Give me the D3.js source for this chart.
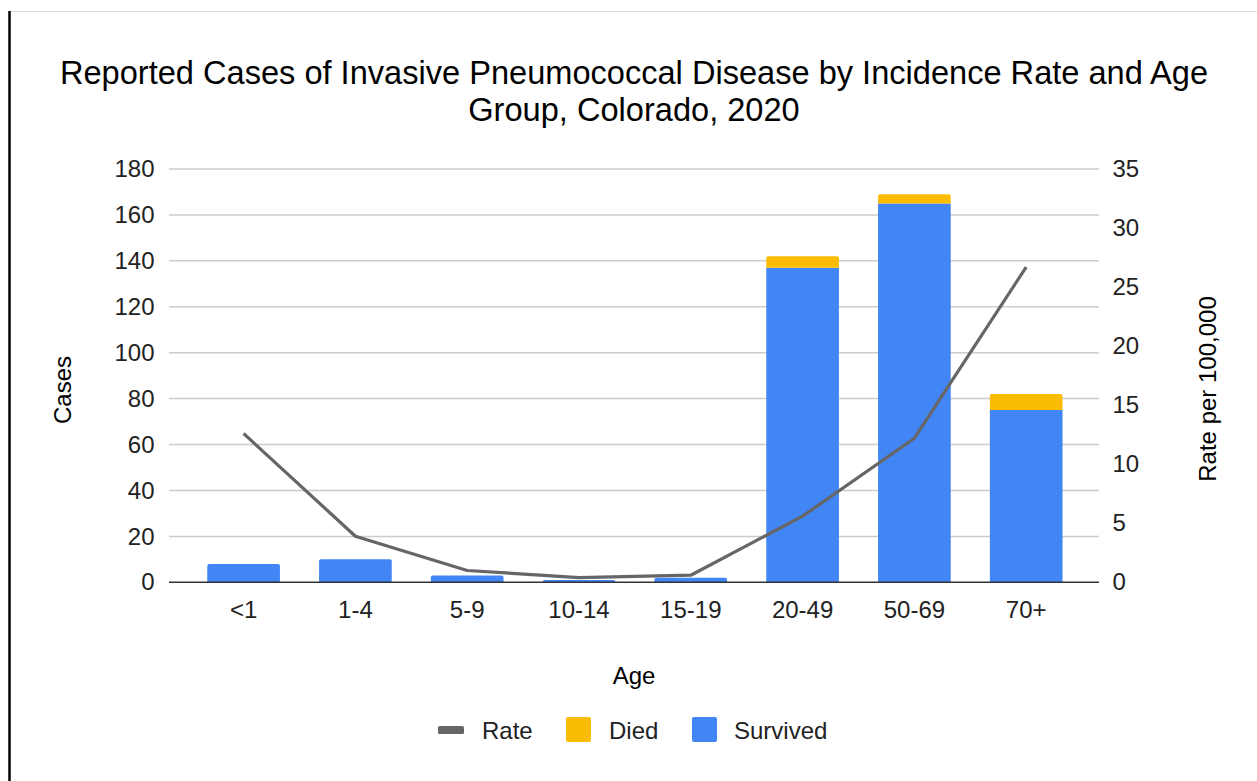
<!DOCTYPE html>
<html>
<head>
<meta charset="utf-8">
<script src="https://cdn.jsdelivr.net/npm/d3@7"></script>
<style>
  html, body { margin: 0; padding: 0; background: #fff; }
  svg { display: block; font-family: "Liberation Sans", Arial, sans-serif; }
</style>
</head>
<body>
<svg id="chart" width="1257" height="781"></svg>
<script>
// Age groups and case counts (stacked: Survived at the bottom, Died on top)
const ageGroups = ["<1", "1-4", "5-9", "10-14", "15-19", "20-49", "50-69", "70+"];
const survived  = [8, 10, 3, 1, 2, 137, 165, 75];
const died      = [0, 0, 0, 0, 0, 5, 4, 7];
// Incidence rate per 100,000 for each age group
const rate      = [12.6, 3.9, 1.0, 0.4, 0.6, 5.6, 12.2, 26.7];
// Axis ticks
const caseTicks = [0, 20, 40, 60, 80, 100, 120, 140, 160, 180];
const rateTicks = [0, 5, 10, 15, 20, 25, 30, 35];

const colors = { survived: "#4285f4", died: "#fbbc04", rate: "#666666" };
const FONT = "Liberation Sans, Arial, sans-serif";

const svg = d3.select("#chart");

// Page frame
svg.append("line").attr("x1", 8).attr("x2", 1257).attr("y1", 11.5).attr("y2", 11.5)
  .attr("stroke", "#dcdcdc").attr("stroke-width", 1);
svg.append("line").attr("x1", 9.5).attr("x2", 9.5).attr("y1", 11).attr("y2", 781)
  .attr("stroke", "#000").attr("stroke-width", 2.5);

const area = { left: 169, right: 1099, top: 169, bottom: 582.3 };

const x = d3.scaleBand().domain(ageGroups).range([187.7, 1082.1]).paddingInner(0.35).paddingOuter(0.175);
const yCases = d3.scaleLinear().domain([0, 180]).range([area.bottom, area.top]);
const yRate = d3.scaleLinear().domain([0, 35]).range([area.bottom, area.top]);

// Title
const title = svg.append("text").attr("text-anchor", "middle").attr("font-size", 32.6).attr("fill", "#000");
title.append("tspan").attr("x", 634).attr("y", 84).text("Reported Cases of Invasive Pneumococcal Disease by Incidence Rate and Age");
title.append("tspan").attr("x", 634).attr("y", 121).text("Group, Colorado, 2020");

// Horizontal gridlines (left axis)
svg.append("g").selectAll("line").data(caseTicks.filter(d => d > 0)).join("line")
  .attr("x1", area.left).attr("x2", area.right)
  .attr("y1", d => yCases(d)).attr("y2", d => yCases(d))
  .attr("stroke", "#cccccc").attr("stroke-width", 1.5);

// Left axis labels
const leftAxis = d3.axisLeft(yCases).tickValues(caseTicks).tickSize(0).tickPadding(0);
const gl = svg.append("g").attr("transform", `translate(154.5,0)`).call(leftAxis);
gl.select(".domain").remove();
gl.selectAll("text").attr("font-size", 24).attr("fill", "#222").attr("font-family", FONT);

// Right axis labels
const rightAxis = d3.axisRight(yRate).tickValues(rateTicks).tickSize(0).tickPadding(0);
const gr = svg.append("g").attr("transform", `translate(1112.5,0)`).call(rightAxis);
gr.select(".domain").remove();
gr.selectAll("text").attr("font-size", 24).attr("fill", "#222").attr("font-family", FONT);

// Category labels
const bottomAxis = d3.axisBottom(x).tickSize(0).tickPadding(0);
const gb = svg.append("g").attr("transform", `translate(0,601)`).call(bottomAxis);
gb.select(".domain").remove();
gb.selectAll("text").attr("font-size", 24).attr("fill", "#222").attr("font-family", FONT);

// Stacked bars
const rows = ageGroups.map((g, i) => ({ group: g, survived: survived[i], died: died[i] }));
const stack = d3.stack().keys(["survived", "died"])(rows);
const barG = svg.append("g");
stack.forEach(layer => {
  barG.append("g").selectAll("path").data(layer.filter(d => d[1] > d[0])).join("path")
    .attr("fill", colors[layer.key])
    .attr("d", d => {
      const x0 = x(d.data.group), w = x.bandwidth();
      const yt = yCases(d[1]), yb = yCases(d[0]);
      const isTop = layer.key === "died" || d.data.died === 0;
      const r = isTop ? Math.min(2, yb - yt) : 0;
      return `M${x0},${yb}V${yt + r}Q${x0},${yt} ${x0 + r},${yt}H${x0 + w - r}Q${x0 + w},${yt} ${x0 + w},${yt + r}V${yb}Z`;
    });
});

// Baseline
svg.append("line").attr("x1", area.left).attr("x2", area.right)
  .attr("y1", area.bottom).attr("y2", area.bottom)
  .attr("stroke", "#333").attr("stroke-width", 1.5);

// Rate line (right axis)
const line = d3.line().x((d, i) => x(ageGroups[i]) + x.bandwidth() / 2).y(d => yRate(d));
svg.append("path").datum(rate).attr("d", line)
  .attr("fill", "none").attr("stroke", colors.rate).attr("stroke-width", 3.2)
  .attr("stroke-linejoin", "round");

// Axis titles
svg.append("text").attr("transform", "translate(71,390) rotate(-90)")
  .attr("text-anchor", "middle").attr("font-size", 24).attr("fill", "#000").text("Cases");
svg.append("text").attr("transform", "translate(1216,389) rotate(-90)")
  .attr("text-anchor", "middle").attr("font-size", 24).attr("fill", "#000").text("Rate per 100,000");
svg.append("text").attr("x", 634).attr("y", 684)
  .attr("text-anchor", "middle").attr("font-size", 24).attr("fill", "#000").text("Age");

// Legend
const legend = svg.append("g");
legend.append("rect").attr("x", 438).attr("y", 726).attr("width", 26).attr("height", 8)
  .attr("rx", 1.5).attr("fill", colors.rate);
legend.append("text").attr("x", 482).attr("y", 738.5).attr("font-size", 24).attr("fill", "#222").text("Rate");
legend.append("rect").attr("x", 566).attr("y", 717).attr("width", 25).attr("height", 25)
  .attr("rx", 2).attr("fill", colors.died);
legend.append("text").attr("x", 609).attr("y", 738.5).attr("font-size", 24).attr("fill", "#222").text("Died");
legend.append("rect").attr("x", 692).attr("y", 717).attr("width", 25).attr("height", 25)
  .attr("rx", 2).attr("fill", colors.survived);
legend.append("text").attr("x", 734).attr("y", 738.5).attr("font-size", 24).attr("fill", "#222").text("Survived");
</script>
</body>
</html>
